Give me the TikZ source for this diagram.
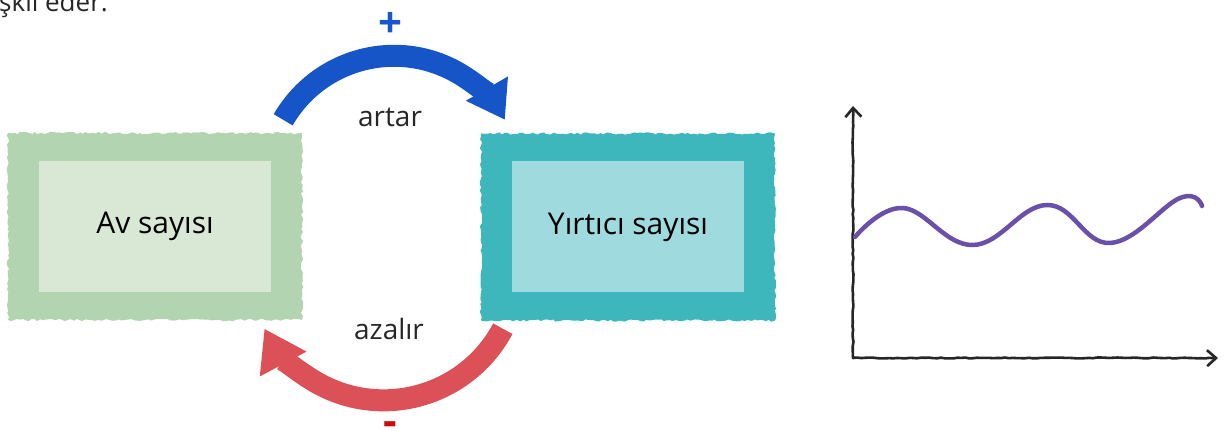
\documentclass[tikz,border=0pt]{standalone}
\usepackage{fontspec}
\setmainfont{Open Sans}
\usetikzlibrary{arrows.meta,decorations.pathmorphing}
\definecolor{Cpreyedge}{HTML}{B3D4B0}
\definecolor{Cpreyfill}{HTML}{D9E8D5}
\definecolor{Cprededge}{HTML}{3DB7BC}
\definecolor{Cpredfill}{HTML}{9FDADE}
\definecolor{Cupblue}{HTML}{1555C8}
\definecolor{Cdownred}{HTML}{DC5058}
\definecolor{Cplusblue}{HTML}{1A56CF}
\definecolor{Cminusred}{HTML}{CC0A0A}
\definecolor{Cwave}{HTML}{6A50A8}

\begin{document}
\begin{tikzpicture}[x=1pt,y=1pt,
		edgebox/.style={minimum width=294pt,minimum height=187pt,inner sep=0pt,
			decorate,decoration={random steps,segment length=3pt,amplitude=1.2pt}},
		fillbox/.style={minimum width=232pt,minimum height=131pt,inner sep=0pt,
			font=\fontsize{30}{36}\selectfont},
		word/.style={anchor=base,font=\fontsize{28}{34}\selectfont,text=black!85},
		loop/.style={line width=22pt},
		axisline/.style={black!85,line width=2.6pt,line join=round,
			decorate,decoration={random steps,segment length=4pt,amplitude=0.5pt}}]
	\useasboundingbox (0,0) rectangle (1224,431);
	% leftover of the sentence above
	\node[word,anchor=base east,inner sep=0pt,font=\fontsize{26}{30}\selectfont] (sentence) at (108,419) {teşkil eder.};
	% boxes
	\node[edgebox,fill=Cpreyedge] (preyout) at (155,204.5) {};
	\node[fillbox,fill=Cpreyfill] (prey) at (preyout) {Av sayısı};
	\node[edgebox,fill=Cprededge] (predout) at (628,204) {};
	\node[fillbox,fill=Cpredfill] (pred) at (predout) {Yırtıcı sayısı};
	% feedback arcs
	\coordinate (upstart) at ([xshift=-19pt,yshift=13pt]preyout.north east);
	\coordinate (downstart) at ([xshift=22pt,yshift=-8pt]predout.south west);
	\draw[loop,Cupblue,-{Triangle[length=36pt,width=46pt]}]
	(upstart) arc[start angle=150,end angle=30,radius=128];
	\draw[loop,Cdownred,-{Triangle[length=40pt,width=50pt]}]
	(downstart) arc[start angle=-28,end angle=-152,radius=135];
	\node[word] (up) at (390,304) {artar};
	\node[word] (down) at (389,91) {azalır};
	\node[text=Cplusblue,font=\fontsize{42}{42}\bfseries] (plus) at (390,406) {+};
	\node[text=Cminusred,font=\fontsize{42}{42}\bfseries] (minus) at (390,2) {-};
	% sketched graph
	\draw[axisline,{Straight Barb[length=9pt,width=16pt]}-{Straight Barb[length=9pt,width=16pt]}]
	(853,325) -- (853,73) -- (1218,73);
	\draw[Cwave,line width=4.5pt,line cap=round]
	plot[smooth,tension=0.7] coordinates {(855,194) (903,223) (973,186) (1047,226) (1110,188) (1180,233) (1202,225)};
\end{tikzpicture}
\end{document}
